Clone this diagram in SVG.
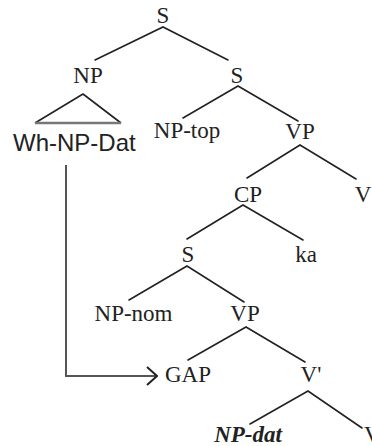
<svg xmlns="http://www.w3.org/2000/svg" width="372" height="446" viewBox="0 0 372 446">
  <defs>
    <style>
      .lbl { font-family: "Liberation Serif", "Times New Roman", serif; font-size: 23px; fill: #222; text-anchor: middle; }
      .sans { font-family: "Liberation Sans", Arial, sans-serif; font-size: 24px; fill: #222; }
      .bi { font-weight: bold; font-style: italic; }
      .edge { stroke: #222; stroke-width: 1.6; fill: none; stroke-linecap: round; }
      .move { stroke: #555; stroke-width: 2; fill: none; }
    </style>
    <marker id="chevron" viewBox="0 0 12 20" refX="11" refY="10" markerWidth="12" markerHeight="20" markerUnits="userSpaceOnUse" orient="auto">
      <path d="M1,1 L11,10 L1,19" fill="none" stroke="#222" stroke-width="2"/>
    </marker>
  </defs>

  <!-- tree branches -->
  <g id="connectors">
    <path class="edge" d="M95,60 L163,27 L228,60"/>
    <path class="edge" d="M183,118 L238,86 L298,121"/>
    <path class="edge" d="M247,178 L300,145 L356,179"/>
    <path class="edge" d="M187,239 L243,205 L303,240"/>
    <path class="edge" d="M129,300 L187,266 L244,302"/>
    <path class="edge" d="M188,360 L246,327 L305,362"/>
    <path class="edge" d="M250,424 L308,391 L362,428"/>
    <!-- movement arrow from the wh-phrase to its gap -->
    <path class="move" d="M66,165 L66,376 L157,376" marker-end="url(#chevron)"/>
  </g>

  <g id="s-root"><text class="lbl" x="163" y="23">S</text></g>
  <g id="np"><text class="lbl" x="88" y="83">NP</text></g>
  <g id="np-triangle">
    <path d="M35,123 L83,94 L121,123" fill="none" stroke="#222" stroke-width="1.6" stroke-linejoin="round"/>
    <line x1="35" y1="123" x2="121" y2="123" stroke="#777" stroke-width="2.4"/>
  </g>
  <g id="wh-np-dat"><text class="sans" x="13" y="151">Wh-NP-Dat</text></g>
  <g id="s-2"><text class="lbl" x="237" y="83">S</text></g>
  <g id="np-top"><text class="lbl" x="187" y="138">NP-top</text></g>
  <g id="vp-1"><text class="lbl" x="300" y="139">VP</text></g>
  <g id="cp"><text class="lbl" x="248" y="202">CP</text></g>
  <g id="v-1"><text class="lbl" x="363" y="202">V</text></g>
  <g id="s-3"><text class="lbl" x="188" y="262">S</text></g>
  <g id="ka"><text class="lbl" x="306" y="262">ka</text></g>
  <g id="np-nom"><text class="lbl" x="133.5" y="321">NP-nom</text></g>
  <g id="vp-2"><text class="lbl" x="245" y="321">VP</text></g>
  <g id="gap"><text class="lbl" x="188" y="382">GAP</text></g>
  <g id="v-bar"><text class="lbl" x="311" y="382">V'</text></g>
  <g id="np-dat"><text class="lbl bi" x="248" y="442">NP-dat</text></g>
  <g id="v-2"><text class="lbl" x="364" y="442" style="text-anchor:start">V</text></g>
</svg>
